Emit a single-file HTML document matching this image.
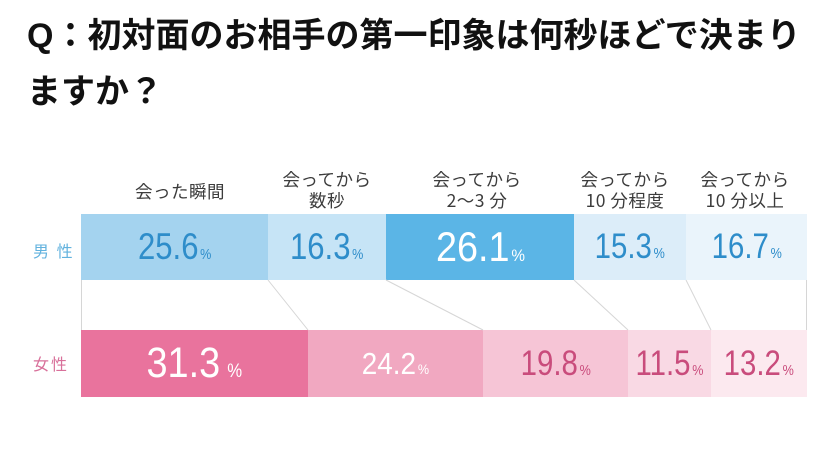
<!DOCTYPE html>
<html><head><meta charset="utf-8">
<style>
html,body{margin:0;padding:0;background:#fff;}
body{width:840px;height:461px;position:relative;overflow:hidden;font-family:"Liberation Sans","Noto Sans CJK JP",sans-serif;}
.title{position:absolute;left:27px;top:8px;width:800px;font-family:"Liberation Sans","Noto Sans CJK JP",sans-serif;font-weight:bold;font-size:34px;line-height:56px;color:#111;white-space:nowrap;}
.hd{position:absolute;font-family:"Noto Sans CJK JP",sans-serif;font-size:17.5px;line-height:21px;color:#3c3c3c;text-align:center;letter-spacing:0.5px;}
.seg{position:absolute;display:flex;align-items:center;justify-content:center;}
.num{display:inline-block;white-space:nowrap;transform:scaleX(0.84);font-family:"Liberation Sans",sans-serif;}
.pc{font-size:15px;margin-left:2px;}
.lbl{position:absolute;font-family:"Noto Sans CJK JP",sans-serif;font-size:16px;line-height:20px;letter-spacing:2px;}
</style></head><body>
<div class="title">Q：初対面のお相手の第一印象は何秒ほどで決まり<br>ますか？</div>

<div class="hd" style="left:100px;width:160px;top:181px;">会った瞬間</div>
<div class="hd" style="left:247px;width:160px;top:169px;">会ってから<br>数秒</div>
<div class="hd" style="left:397px;width:160px;top:169px;">会ってから<br>2～3 分</div>
<div class="hd" style="left:545px;width:160px;top:169px;">会ってから<br>10 分程度</div>
<div class="hd" style="left:665px;width:160px;top:169px;">会ってから<br>10 分以上</div>

<div class="lbl" style="left:33px;top:240px;color:#62b2de;">男 性</div>
<div class="lbl" style="left:33px;top:353px;color:#d8709a;">女性</div>

<!-- male row -->
<div class="seg" style="left:81px;top:214px;width:187px;height:66px;background:#a4d3ef;color:#2e8dca;"><span class="num" style="font-size:37px;">25.6<span class="pc">%</span></span></div>
<div class="seg" style="left:268px;top:214px;width:118px;height:66px;background:#c6e4f6;color:#2e8dca;"><span class="num" style="font-size:37px;">16.3<span class="pc">%</span></span></div>
<div class="seg" style="left:386px;top:214px;width:188px;height:66px;background:#5bb5e6;color:#fff;"><span class="num" style="font-size:42px;transform:scaleX(0.9);">26.1<span class="pc" style="font-size:17px;">%</span></span></div>
<div class="seg" style="left:574px;top:214px;width:112px;height:66px;background:#dcedf9;color:#2e8dca;"><span class="num" style="font-size:35px;">15.3<span class="pc">%</span></span></div>
<div class="seg" style="left:686px;top:214px;width:121px;height:66px;background:#eaf4fb;color:#2e8dca;"><span class="num" style="font-size:35px;">16.7<span class="pc">%</span></span></div>

<!-- female row -->
<div class="seg" style="left:81px;top:330px;width:227px;height:67px;background:#e9739d;color:#fff;"><span class="num" style="font-size:43px;transform:scaleX(0.88);">31.3<span class="pc" style="font-size:19px;margin-left:8px;">%</span></span></div>
<div class="seg" style="left:308px;top:330px;width:175px;height:67px;background:#f1a8c1;color:#fff;"><span class="num" style="font-size:31px;transform:scaleX(0.9);">24.2<span class="pc" style="font-size:14px;">%</span></span></div>
<div class="seg" style="left:483px;top:330px;width:145px;height:67px;background:#f6c5d6;color:#c94c7c;"><span class="num" style="font-size:35px;">19.8<span class="pc">%</span></span></div>
<div class="seg" style="left:628px;top:330px;width:83px;height:67px;background:#f9d9e4;color:#c94c7c;"><span class="num" style="font-size:35px;">11.5<span class="pc">%</span></span></div>
<div class="seg" style="left:711px;top:330px;width:96px;height:67px;background:#fce9ef;color:#c94c7c;"><span class="num" style="font-size:35px;">13.2<span class="pc">%</span></span></div>

<svg style="position:absolute;left:0;top:0;" width="840" height="461">
<g stroke="#d6d6d6" stroke-width="1" fill="none">
<line x1="81.5" y1="280" x2="81.5" y2="330"/>
<line x1="268" y1="280" x2="308" y2="330"/>
<line x1="386" y1="280" x2="483" y2="330"/>
<line x1="574" y1="280" x2="628" y2="330"/>
<line x1="686" y1="280" x2="711" y2="330"/>
<line x1="806.5" y1="280" x2="806.5" y2="330"/>
</g>
</svg>
</body></html>
